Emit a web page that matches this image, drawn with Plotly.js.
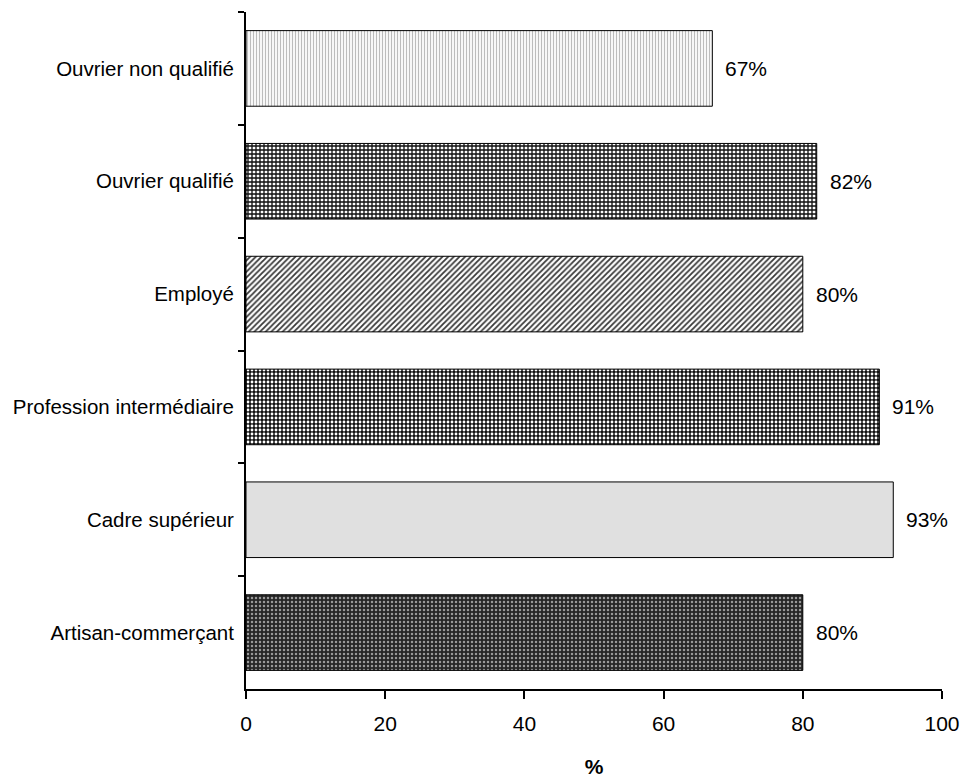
<!DOCTYPE html>
<html>
<head>
<meta charset="utf-8">
<script src="https://cdn.plot.ly/plotly-3.0.1.min.js"></script>
<style>html,body{margin:0;padding:0;background:#fff;}#chart{width:966px;height:778px;}</style>
</head>
<body>
<div id="chart"></div>
<script>
// Share per occupational category, listed top to bottom
const categories = ["Ouvrier non qualifié", "Ouvrier qualifié", "Employé", "Profession intermédiaire", "Cadre supérieur", "Artisan-commerçant"];
const values = [67, 82, 80, 91, 93, 80];
const xTicks = [0, 20, 40, 60, 80, 100];

// Hatch fill per bar (same order as categories)
const patternShapes = ["|", "+", "/", ".", "", "."];
const patternBg = ["#f7f7f7", "#ffffff", "#ffffff", "#111111", "#e0e0e0", "#262626"];
const patternFg = ["#bcbcbc", "#111111", "#3a3a3a", "#ffffff", "#e0e0e0", "#9a9a9a"];
const patternSize = [3, 4, 4, 4, 4, 4];
const patternSolidity = [0.35, 0.55, 0.45, 0.4, 0.3, 0.3];

const FONT = "Liberation Sans, Arial, sans-serif";

// one trace per category so each bar carries its own fill
const traces = categories.map((c, i) => ({
  type: "bar",
  orientation: "h",
  y: [c],
  x: [values[i]],
  marker: {
    color: patternBg[i],
    line: {color: "#000", width: 1},
    pattern: {
      shape: patternShapes[i],
      fgcolor: patternFg[i],
      fgopacity: 1,
      size: patternSize[i],
      solidity: patternSolidity[i],
      fillmode: "overlay"
    }
  },
  hoverinfo: "skip"
}));

const annotations = categories.map((c, i) => ({
  x: values[i], y: c, xref: "x", yref: "y",
  text: values[i] + "%", showarrow: false,
  xanchor: "left", xshift: 11,
  font: {family: FONT, size: 21, color: "#000"}
}));

const layout = {
  width: 966, height: 778,
  margin: {l: 246, r: 24, t: 12, b: 89},
  paper_bgcolor: "#fff", plot_bgcolor: "#fff",
  showlegend: false,
  barmode: "overlay",
  bargap: 0.33,
  font: {family: FONT, size: 20, color: "#000"},
  xaxis: {
    range: [0, 100], tickvals: xTicks, ticktext: xTicks.map(String),
    showgrid: false, zeroline: false,
    showline: true, linecolor: "#000", linewidth: 2,
    ticks: "outside", ticklen: 8, tickwidth: 2, tickcolor: "#000",
    ticklabelstandoff: 7,
    tickfont: {size: 21},
    title: {text: "<b>%</b>", font: {size: 21}, standoff: 27}
  },
  yaxis: {
    type: "category", autorange: "reversed",
    categoryorder: "array", categoryarray: categories,
    showgrid: false, zeroline: false,
    showline: true, linecolor: "#000", linewidth: 2,
    ticks: "outside", tickson: "boundaries", ticklen: 6, tickwidth: 2, tickcolor: "#000",
    ticklabelstandoff: 6,
    tickfont: {size: 20.5}
  },
  annotations: annotations
};

Plotly.newPlot("chart", traces, layout, {staticPlot: true});
</script>
</body>
</html>
